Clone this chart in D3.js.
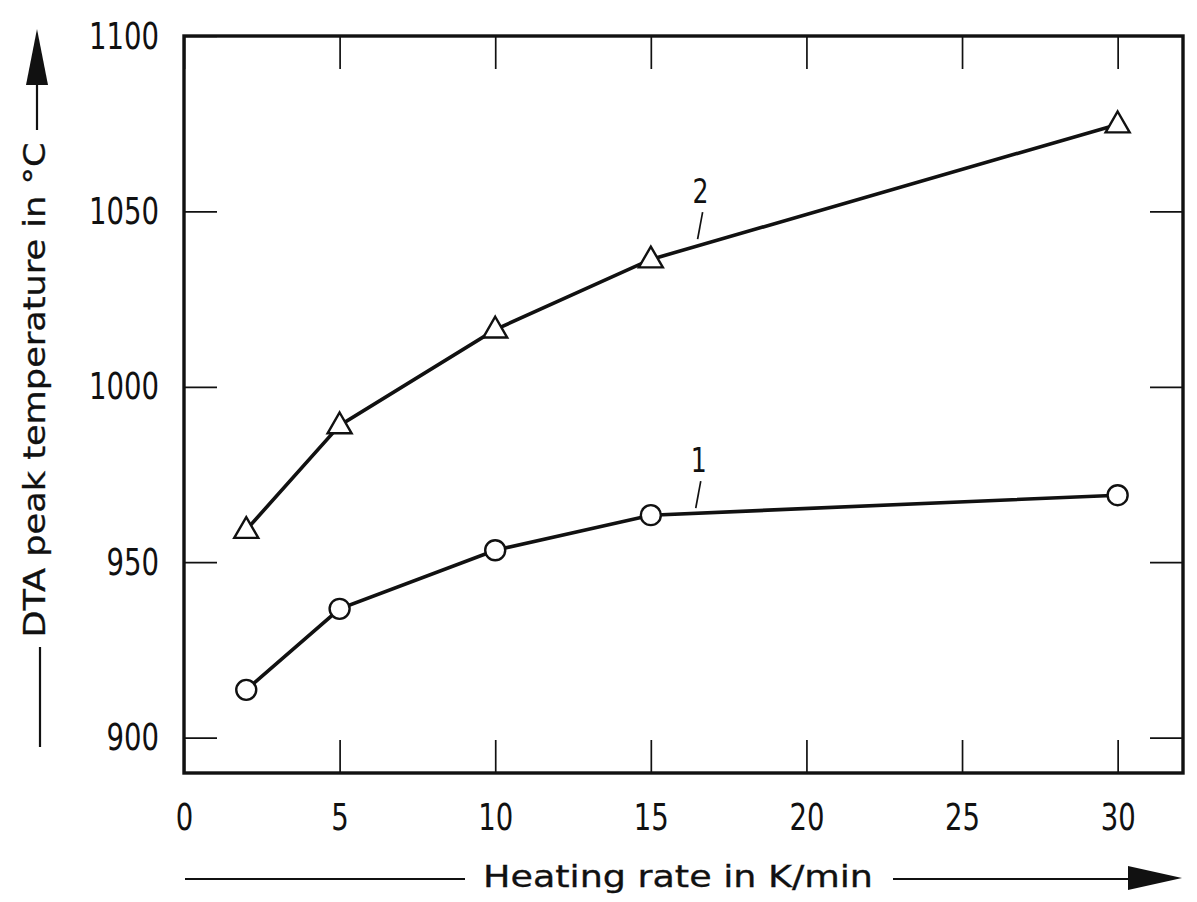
<!DOCTYPE html>
<html>
<head>
<meta charset="utf-8">
<script src="https://cdn.jsdelivr.net/npm/d3@7"></script>
<style>
  body { margin: 0; background: #fff; }
  svg { display: block; background: #fff; }
  text { fill: #111; font-family: 'Liberation Sans Narrow', 'DejaVu Sans Condensed', 'Roboto', sans-serif; }
</style>
</head>
<body>
<svg id="chart" width="1197" height="902"></svg>
<script>
// heating rate in K/min
var rates = [2, 5, 10, 15, 30];
// curve 1 (circles) and curve 2 (triangles), DTA peak temperature in °C
var curve1 = [913.6, 936.7, 953.4, 963.4, 969.1];
var curve2 = [959.2, 989.0, 1016.3, 1036.3, 1074.8];
var xTicks = [0, 5, 10, 15, 20, 25, 30];
var yTicks = [900, 950, 1000, 1050, 1100];
// curve labels: [label, x, y] in data units (label centre)
var curveLabels = [["1", 16.54, 979.1], ["2", 16.6, 1055.8]];

document.addEventListener('DOMContentLoaded', function () {
    drawChart();
});

function drawChart() {
    const svg = d3.select('#chart');
    const width = 1197, height = 902;
    const margin = { top: 36, bottom: 129, right: 14, left: 184 };
    const tick = 33;
    const digitW = 17.5;

    const x = d3.scaleLinear().domain([0, 32.1]).range([margin.left, width - margin.right]);
    const y = d3.scaleLinear().domain([889.9, 1100]).range([height - margin.bottom, margin.top]);

    // ticks on all four sides, pointing inwards
    const axes = [
        [d3.axisBottom(x).tickValues(xTicks), `translate(0,${y.range()[0]})`, true],
        [d3.axisTop(x).tickValues(xTicks), `translate(0,${y.range()[1]})`, false],
        [d3.axisLeft(y).tickValues(yTicks), `translate(${x.range()[0]},0)`, true],
        [d3.axisRight(y).tickValues(yTicks), `translate(${x.range()[1]},0)`, false]
    ];
    axes.forEach(function (a, i) {
        a[0].tickSizeInner(-tick).tickSizeOuter(0).tickPadding(i == 0 ? 30 : 25);
        a[0].tickFormat(a[2] ? d3.format('d') : '');
        const g = svg.append('g').attr('transform', a[1]).call(a[0]);
        g.select('.domain').remove();
        g.selectAll('line').attr('stroke', '#111').attr('stroke-width', 1.7);
        g.selectAll('text')
            .attr('font-size', 38)
            .attr('fill', '#111')
            .attr('textLength', d => String(d).length * digitW)
            .attr('lengthAdjust', 'spacingAndGlyphs')
            .style('font-family', "'Liberation Sans Narrow', 'DejaVu Sans Condensed', sans-serif");
    });

    // frame
    svg.append('rect')
        .attr('x', x.range()[0]).attr('y', y.range()[1])
        .attr('width', x.range()[1] - x.range()[0])
        .attr('height', y.range()[0] - y.range()[1])
        .attr('fill', 'none').attr('stroke', '#111').attr('stroke-width', 3.4);

    const line = d3.line().x((d, i) => x(rates[i])).y(d => y(d));
    [curve1, curve2].forEach(function (c) {
        svg.append('path')
            .datum(c)
            .attr('d', line)
            .attr('fill', 'none')
            .attr('stroke', '#111')
            .attr('stroke-width', 3.6);
    });

    svg.selectAll('circle.pt')
        .data(curve1)
        .enter()
        .append('circle')
        .attr('class', 'pt')
        .attr('cx', (d, i) => x(rates[i]))
        .attr('cy', d => y(d))
        .attr('r', 10)
        .attr('fill', '#fff')
        .attr('stroke', '#111')
        .attr('stroke-width', 2.4);

    const tri = d3.symbol().type(d3.symbolTriangle).size(250);
    svg.selectAll('path.tri')
        .data(curve2)
        .enter()
        .append('path')
        .attr('class', 'tri')
        .attr('d', tri)
        .attr('transform', (d, i) => `translate(${x(rates[i])},${y(d) + 1})`)
        .attr('fill', '#fff')
        .attr('stroke', '#111')
        .attr('stroke-width', 2.4);

    // curve numbers with short leader lines
    curveLabels.forEach(function (l) {
        const px = x(l[1]), py = y(l[2]);
        svg.append('text')
            .attr('x', px).attr('y', py)
            .attr('dy', '0.36em')
            .attr('text-anchor', 'middle')
            .attr('font-size', 34)
            .attr('textLength', 16)
            .attr('lengthAdjust', 'spacingAndGlyphs')
            .text(l[0]);
        svg.append('line')
            .attr('x1', px + 2).attr('y1', py + 21)
            .attr('x2', px - 3).attr('y2', py + 48)
            .attr('stroke', '#111').attr('stroke-width', 1.7);
    });

    // x axis title with arrow
    svg.append('text')
        .attr('x', 678).attr('y', 887)
        .attr('text-anchor', 'middle')
        .attr('font-size', 31)
        .attr('stroke', '#111').attr('stroke-width', 0.3)
        .attr('textLength', 390)
        .attr('lengthAdjust', 'spacingAndGlyphs')
        .text('Heating rate in K/min');
    svg.append('line').attr('x1', 185).attr('x2', 465).attr('y1', 879).attr('y2', 879)
        .attr('stroke', '#111').attr('stroke-width', 2.2);
    svg.append('line').attr('x1', 893).attr('x2', 1135).attr('y1', 879).attr('y2', 879)
        .attr('stroke', '#111').attr('stroke-width', 2.2);
    svg.append('path').attr('d', 'M1128,866 L1182,878 L1128,890 Z').attr('fill', '#111');

    // y axis title with arrow
    svg.append('text')
        .attr('transform', 'translate(45,390) rotate(-90)')
        .attr('text-anchor', 'middle')
        .attr('font-size', 30)
        .attr('stroke', '#111').attr('stroke-width', 0.3)
        .attr('textLength', 495)
        .attr('lengthAdjust', 'spacingAndGlyphs')
        .text('DTA peak temperature in °C');
    svg.append('line').attr('x1', 40).attr('x2', 40).attr('y1', 647).attr('y2', 747)
        .attr('stroke', '#111').attr('stroke-width', 2.2);
    svg.append('line').attr('x1', 37).attr('x2', 37).attr('y1', 80).attr('y2', 130)
        .attr('stroke', '#111').attr('stroke-width', 2.2);
    svg.append('path').attr('d', 'M26,85 L37,29 L48,85 Z').attr('fill', '#111');
}
</script>
</body>
</html>
